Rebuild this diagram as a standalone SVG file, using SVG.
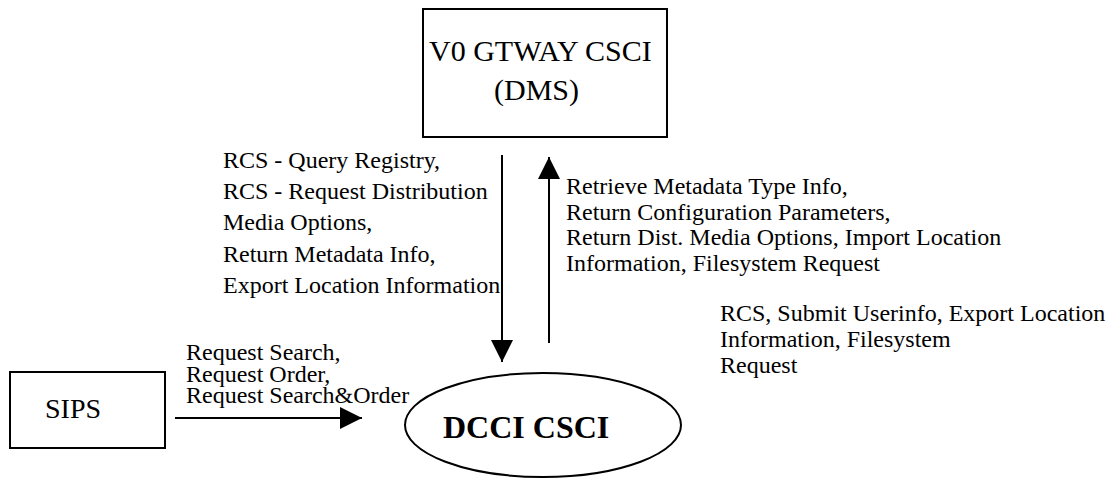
<svg xmlns="http://www.w3.org/2000/svg" width="1110" height="482" viewBox="0 0 1110 482">
  <style>
    text { font-family: "Liberation Serif", "Times New Roman", "DejaVu Serif", serif; fill: #000; }
    .lbl { font-size: 24px; }
    .box { fill: #fff; stroke: #000; stroke-width: 2; }
    .flow { stroke: #000; stroke-width: 2; fill: none; }
  </style>
  <defs>
    <marker id="arrow" markerUnits="userSpaceOnUse" markerWidth="22" markerHeight="22" refX="22" refY="11" orient="auto">
      <path d="M0,0 L22,11 L0,22 Z" fill="#000"/>
    </marker>
  </defs>
  <rect width="1110" height="482" fill="#fff"/>

  <g id="v0-gateway">
    <rect class="box" x="423" y="9" width="244" height="128"/>
    <text x="429" y="61" font-size="30">V0 GTWAY CSCI</text>
    <text x="494" y="100" font-size="30">(DMS)</text>
  </g>

  <g id="sips">
    <rect class="box" x="10" y="372" width="155" height="76"/>
    <text x="45" y="418" font-size="28">SIPS</text>
  </g>

  <g id="dcci">
    <ellipse cx="543" cy="425" rx="138" ry="52" class="box"/>
    <text x="443" y="438" font-size="32" font-weight="bold">DCCI CSCI</text>
  </g>

  <g id="connectors">
    <line class="flow" x1="502" y1="155" x2="502" y2="362" marker-end="url(#arrow)"/>
    <line class="flow" x1="549" y1="343" x2="549" y2="157" marker-end="url(#arrow)"/>
    <line class="flow" x1="175" y1="418" x2="362" y2="418" marker-end="url(#arrow)"/>
  </g>

  <g id="labels" class="lbl">
    <text x="223" y="168">RCS - Query Registry,</text>
    <text x="223" y="199">RCS - Request Distribution</text>
    <text x="223" y="230">Media Options,</text>
    <text x="223" y="262">Return Metadata Info,</text>
    <text x="223" y="293">Export Location Information</text>

    <text x="566" y="194">Retrieve Metadata Type Info,</text>
    <text x="566" y="220">Return Configuration Parameters,</text>
    <text x="566" y="245">Return Dist. Media Options, Import Location</text>
    <text x="566" y="271">Information, Filesystem Request</text>

    <text x="720" y="321">RCS, Submit Userinfo, Export Location</text>
    <text x="720" y="347">Information, Filesystem</text>
    <text x="720" y="373">Request</text>

    <!-- SIPS request flow: tightly spaced three-line label -->
    <text x="186" y="360">Request Search,<tspan x="186" dy="22">Request Order,</tspan><tspan x="186" dy="21">Request Search&amp;Order</tspan></text>
  </g>
</svg>
